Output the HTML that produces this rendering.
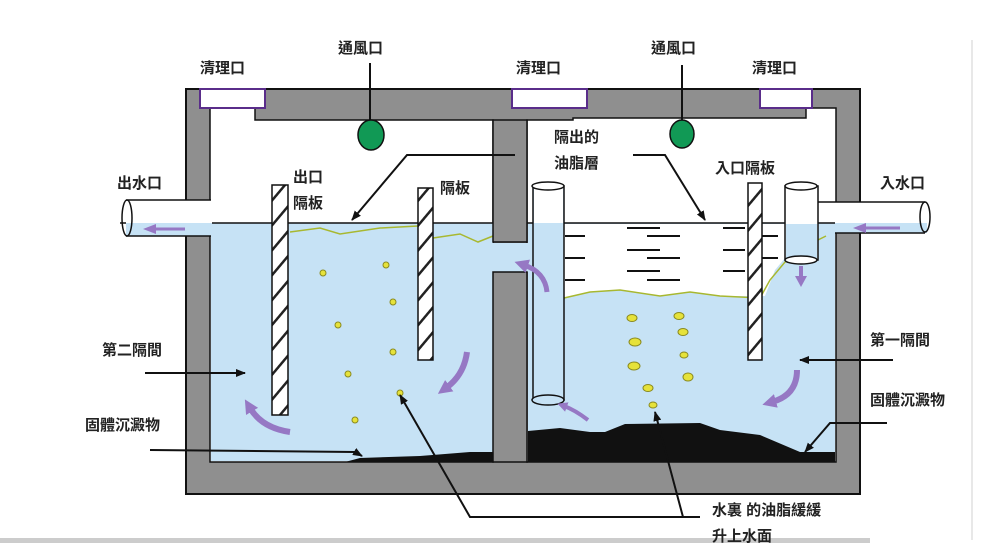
<!DOCTYPE html>
<html><head><meta charset="utf-8"><style>
html,body{margin:0;padding:0;background:#fff;}
svg{display:block}
text{font-family:"Liberation Sans","Noto Sans CJK TC",sans-serif;font-weight:bold;font-size:15px;fill:#222}
</style></head><body>
<svg width="1000" height="543" viewBox="0 0 1000 543" xmlns="http://www.w3.org/2000/svg">
<defs>
<marker id="ah" markerWidth="10" markerHeight="8" refX="9" refY="4" orient="auto" markerUnits="userSpaceOnUse"><path d="M0,0 L10,4 L0,8 Z" fill="#111"/></marker>
<marker id="pa" markerWidth="14" markerHeight="14" refX="4" refY="7" orient="auto" markerUnits="userSpaceOnUse"><path d="M0,0 L14,7 L0,14 Z" fill="#9678c4"/></marker>
<marker id="pas" markerWidth="10" markerHeight="10" refX="3" refY="5" orient="auto" markerUnits="userSpaceOnUse"><path d="M0,0 L10,5 L0,10 Z" fill="#9678c4"/></marker>
<pattern id="hatch" width="16" height="16" patternUnits="userSpaceOnUse" patternTransform="rotate(-50)"><rect width="16" height="16" fill="#fff"/><rect width="16" height="2.5" fill="#222"/></pattern>
</defs>
<rect x="971" y="40" width="2" height="500" fill="#e8e8e8"/>
<rect x="0" y="538" width="870" height="5" fill="#ccc"/>
<rect x="186" y="89" width="674" height="405" fill="#8f8f8f" stroke="#111" stroke-width="2"/>
<path d="M210,108 L255,108 L255,120 L493,120 L493,462 L210,462 Z" fill="#fff" stroke="#111" stroke-width="1.5"/>
<path d="M527,120 L573,120 L573,118 L806,118 L806,108 L836,108 L836,462 L527,462 Z" fill="#fff" stroke="#111" stroke-width="1.5"/>
<rect x="492" y="243" width="36" height="29" fill="#c6e2f5"/>
<rect x="211" y="223" width="282" height="238" fill="#c6e2f5"/>
<rect x="528" y="223" width="307" height="238" fill="#c6e2f5"/>
<path d="M564,224 L785,224 L785,258 L775,270 L765,296 L720,296 L690,292 L660,296 L620,290 L590,292 L564,298 Z" fill="#fff"/>
<path d="M564,298 L590,292 L620,290 L660,296 L690,292 L720,296 L760,298 L770,280 L785,262 L800,258 L818,240 L826,236" fill="none" stroke="#a8b830" stroke-width="1.5"/>
<path d="M290,232 L320,228 L340,234 L380,228 L418,226" fill="none" stroke="#a8b830" stroke-width="1.5"/>
<path d="M433,238 L460,234 L478,242 L493,236" fill="none" stroke="#a8b830" stroke-width="1.5"/>
<line x1="120" y1="223" x2="925" y2="223" stroke="#111" stroke-width="1.5"/>
<rect x="493" y="120" width="34" height="122" fill="#8f8f8f" stroke="#111" stroke-width="1.5"/>
<rect x="493" y="272" width="34" height="190" fill="#8f8f8f" stroke="#111" stroke-width="1.5"/>
<rect x="200" y="89" width="65" height="19" fill="#fff" stroke="#5a2d8a" stroke-width="2"/>
<rect x="512" y="89" width="75" height="19" fill="#fff" stroke="#5a2d8a" stroke-width="2"/>
<rect x="760" y="89" width="52" height="19" fill="#fff" stroke="#5a2d8a" stroke-width="2"/>
<rect x="126" y="200" width="86" height="36" fill="#fff"/>
<rect x="126" y="223" width="86" height="13" fill="#c6e2f5"/>
<line x1="126" y1="200" x2="211" y2="200" stroke="#111" stroke-width="1.5"/>
<line x1="126" y1="236" x2="211" y2="236" stroke="#111" stroke-width="1.5"/>
<ellipse cx="127" cy="218" rx="5" ry="18" fill="none" stroke="#111" stroke-width="1.5"/>
<line x1="155" y1="229" x2="185" y2="229" stroke="#9678c4" stroke-width="3"/>
<path d="M143,229 L156,224 L156,234 Z" fill="#9678c4"/>
<rect x="835" y="202" width="92" height="31" fill="#fff"/>
<rect x="835" y="223" width="92" height="10" fill="#c6e2f5"/>
<line x1="818" y1="202" x2="925" y2="202" stroke="#111" stroke-width="1.5"/>
<line x1="835" y1="233" x2="925" y2="233" stroke="#111" stroke-width="1.5"/>
<ellipse cx="925" cy="217" rx="5" ry="15" fill="none" stroke="#111" stroke-width="1.5"/>
<line x1="900" y1="228" x2="866" y2="228" stroke="#9678c4" stroke-width="3"/>
<path d="M853,228 L866,223 L866,233 Z" fill="#9678c4"/>
<rect x="785" y="186" width="33" height="74" fill="#fff" stroke="#111" stroke-width="1.5"/>
<rect x="786" y="224" width="31" height="35" fill="#c6e2f5"/>
<ellipse cx="801" cy="186" rx="16" ry="4" fill="#fff" stroke="#111" stroke-width="1.5"/>
<ellipse cx="801" cy="260" rx="16" ry="4" fill="#fff" stroke="#111" stroke-width="1.5"/>
<line x1="801" y1="266" x2="801" y2="277" stroke="#9678c4" stroke-width="4"/>
<path d="M795,276 L807,276 L801,287 Z" fill="#9678c4"/>
<rect x="533" y="186" width="31" height="214" fill="#c6e2f5" stroke="#111" stroke-width="1.5"/>
<rect x="534" y="187" width="29" height="36" fill="#fff"/>
<ellipse cx="548" cy="186" rx="16" ry="4" fill="#fff" stroke="#111" stroke-width="1.5"/>
<ellipse cx="548" cy="400" rx="16" ry="5" fill="#c6e2f5" stroke="#111" stroke-width="1.5"/>
<g stroke="#111" stroke-width="2">
<line x1="565" y1="236" x2="585" y2="236"/><line x1="565" y1="258" x2="585" y2="258"/><line x1="565" y1="280" x2="585" y2="280"/>
<line x1="627" y1="228" x2="660" y2="228"/><line x1="647" y1="236" x2="680" y2="236"/>
<line x1="627" y1="250" x2="660" y2="250"/><line x1="647" y1="258" x2="680" y2="258"/>
<line x1="627" y1="271" x2="660" y2="271"/><line x1="647" y1="280" x2="680" y2="280"/>
<line x1="723" y1="228" x2="745" y2="228"/><line x1="723" y1="250" x2="745" y2="250"/><line x1="723" y1="271" x2="745" y2="271"/>
<line x1="762" y1="236" x2="778" y2="236"/><line x1="762" y1="258" x2="778" y2="258"/>
</g>
<rect x="272" y="185" width="16" height="230" fill="url(#hatch)" stroke="#111" stroke-width="1.5"/>
<rect x="418" y="188" width="15" height="172" fill="url(#hatch)" stroke="#111" stroke-width="1.5"/>
<rect x="748" y="183" width="14" height="177" fill="url(#hatch)" stroke="#111" stroke-width="1.5"/>
<path d="M345,462 L360,458 L420,456 L470,452 L493,452 L493,462 Z" fill="#111"/>
<path d="M528,431 L560,428 L590,432 L605,432 L625,424 L700,423 L720,430 L760,435 L800,452 L835,452 L835,462 L528,462 Z" fill="#111"/>
<line x1="370" y1="63" x2="370" y2="122" stroke="#111" stroke-width="2"/>
<ellipse cx="371" cy="135" rx="13" ry="15" fill="#119955" stroke="#111" stroke-width="1.5"/>
<line x1="682" y1="65" x2="682" y2="122" stroke="#111" stroke-width="2"/>
<ellipse cx="682" cy="134" rx="12" ry="14" fill="#119955" stroke="#111" stroke-width="1.5"/>
<g fill="#e6e23a" stroke="#8a8a20" stroke-width="1">
<ellipse cx="323" cy="273" rx="3" ry="3"/><ellipse cx="386" cy="265" rx="3" ry="3"/><ellipse cx="393" cy="302" rx="3" ry="3"/>
<ellipse cx="338" cy="325" rx="3" ry="3"/><ellipse cx="393" cy="352" rx="3" ry="3"/><ellipse cx="348" cy="374" rx="3" ry="3"/>
<ellipse cx="400" cy="393" rx="3" ry="3"/><ellipse cx="355" cy="420" rx="3" ry="3"/>
<ellipse cx="632" cy="318" rx="5" ry="3.5"/><ellipse cx="679" cy="316" rx="5" ry="3.5"/><ellipse cx="635" cy="342" rx="6" ry="4"/>
<ellipse cx="683" cy="332" rx="5" ry="3.5"/><ellipse cx="634" cy="366" rx="6" ry="4"/><ellipse cx="684" cy="355" rx="4" ry="3"/>
<ellipse cx="688" cy="377" rx="5" ry="4"/><ellipse cx="648" cy="388" rx="5" ry="3.5"/><ellipse cx="653" cy="405" rx="4" ry="3"/>
</g>
<g fill="none" stroke="#9678c4" stroke-width="6">
<path d="M290,432 Q262,428 250,408" marker-end="url(#pa)"/>
<path d="M467,352 Q464,375 446,388" marker-end="url(#pa)"/>
<path d="M547,292 Q545,272 524,265" marker-end="url(#pa)" stroke-width="5"/>
<path d="M588,420 Q575,410 564,406" marker-end="url(#pas)" stroke-width="4"/>
<path d="M797,370 Q797,395 772,402" marker-end="url(#pa)"/>
</g>
<g stroke="#111" stroke-width="2" fill="none">
<path d="M515,155 L407,155 L352,220" marker-end="url(#ah)"/>
<path d="M633,155 L665,155 L705,220" marker-end="url(#ah)"/>
<path d="M145,373 L245,373" marker-end="url(#ah)"/>
<path d="M150,450 L355,452 L362,456" marker-end="url(#ah)"/>
<path d="M893,360 L800,360" marker-end="url(#ah)"/>
<path d="M887,423 L830,423 L805,452" marker-end="url(#ah)"/>
<path d="M700,517 L470,517 L400,395" marker-end="url(#ah)"/>
<path d="M683,517 L655,412" marker-end="url(#ah)"/>
</g>
<text x="200" y="73">清理口</text>
<text x="338" y="53">通風口</text>
<text x="516" y="73">清理口</text>
<text x="651" y="53">通風口</text>
<text x="752" y="73">清理口</text>
<text x="117" y="188">出水口</text>
<text x="293" y="182">出口</text>
<text x="293" y="208">隔板</text>
<text x="440" y="193">隔板</text>
<text x="554" y="142">隔出的</text>
<text x="554" y="168">油脂層</text>
<text x="715" y="173">入口隔板</text>
<text x="880" y="188">入水口</text>
<text x="102" y="355">第二隔間</text>
<text x="85" y="430">固體沉澱物</text>
<text x="870" y="345">第一隔間</text>
<text x="870" y="405">固體沉澱物</text>
<text x="712" y="515">水裏 的油脂緩緩</text>
<text x="712" y="541">升上水面</text>
</svg>
</body></html>
